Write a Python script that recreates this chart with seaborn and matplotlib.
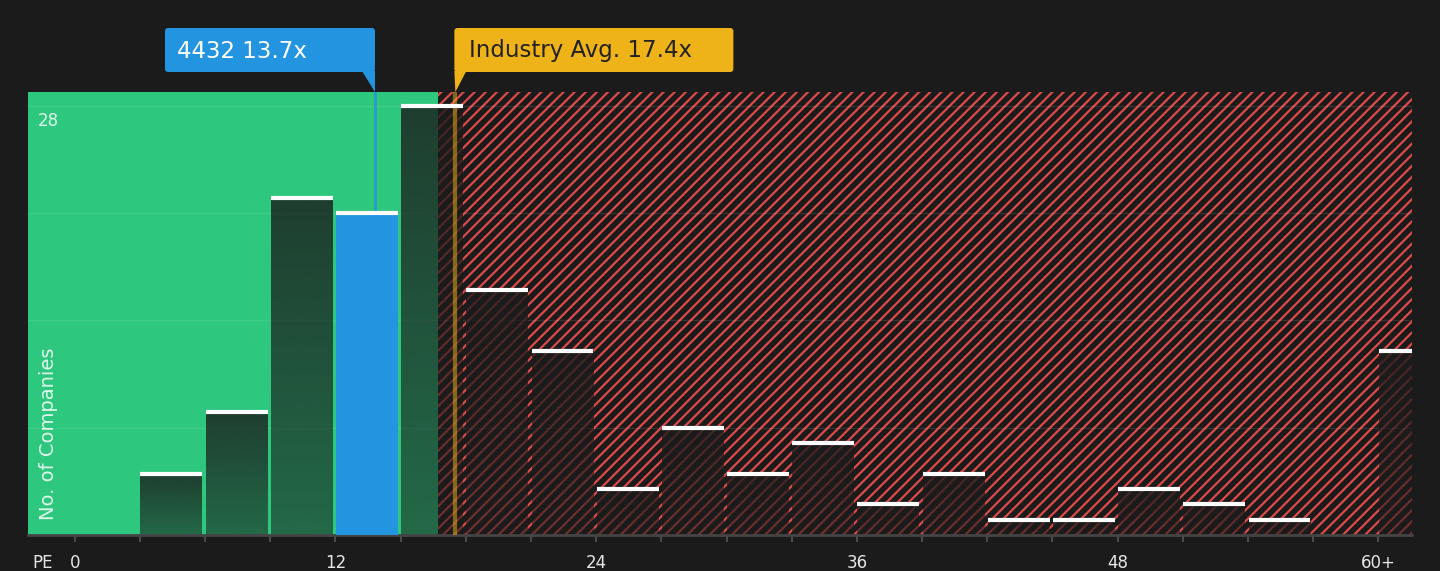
import numpy as np
import pandas as pd
import matplotlib
matplotlib.use("Agg")
import matplotlib.pyplot as plt
import seaborn as sns
from matplotlib.patches import FancyBboxPatch, Polygon
from matplotlib.transforms import Affine2D

# --- data ---
bin_starts = [0, 3, 6, 9, 12, 15, 18, 21, 24, 27, 30, 33, 36, 39, 42, 45, 48, 51, 54, 57, 60]
company_counts = [0, 4, 8, 22, 21, 28, 16, 12, 3, 7, 4, 6, 2, 4, 1, 1, 3, 2, 1, 0, 12]
tick_values = [0, 12, 24, 36, 48, 60]
tick_labels = ["0", "12", "24", "36", "48", "60+"]
company_name = "4432"
company_pe = 13.7
industry_avg = 17.4
fair_limit = 16.7

BG = "#1b1b1b"
GREEN = "#2dc77e"
BLUE = "#2394e0"
YELLOW = "#efb31a"
RED = "#dc4a4a"
W, H = 1440, 571
NUDGE = 0.12  # marker lines sit a touch right of the value in the original

sns.set_theme(style="dark")
plt.rcParams["font.family"] = ["DejaVu Sans"]
plt.rcParams["hatch.linewidth"] = 1.6

df = pd.DataFrame({"pe": [b + 1.45 for b in bin_starts], "count": company_counts})

fig = plt.figure(figsize=(W / 100, H / 100), dpi=100, facecolor=BG)
ax = fig.add_axes([28 / W, 1 - 535 / H, (1412 - 28) / W, (535 - 92) / H])
ax.set_facecolor(BG)
xmin, xmax = -2.15, 61.55
ymax = 28.9

# bars first so ax.patches holds only the bars
sns.barplot(data=df, x="pe", y="count", native_scale=True, width=0.95,
            color=BG, ax=ax, saturation=1, errorbar=None, linewidth=0)
bars = list(ax.patches)

# valuation zones
ax.axvspan(xmin, fair_limit, color=GREEN, lw=0, zorder=0)
ax.axvspan(fair_limit, xmax + 2, facecolor="none", edgecolor=RED, hatch="///", lw=0, zorder=0)

for g in [7, 14, 21, 28]:
    ax.axhline(g, color="white", alpha=0.1, lw=1, zorder=1)

grad = np.zeros((64, 1, 4))
grad[..., :3] = np.array([27, 27, 27]) / 255
grad[:, 0, 3] = np.linspace(0.8, 0.55, 64)

for p, c in zip(bars, company_counts):
    x0, w, h = p.get_x(), p.get_width(), p.get_height()
    if c == 0:
        p.set_visible(False)
        continue
    if x0 <= company_pe <= x0 + w:
        p.set_facecolor(BLUE)
        p.set_zorder(3)
    else:
        p.set_visible(False)
        ax.imshow(grad, extent=(x0, x0 + w, 0, h), aspect="auto", zorder=2,
                  interpolation="bilinear")
    ax.plot([x0, x0 + w], [h, h], color="white", lw=3, solid_capstyle="butt", zorder=4)

# company and industry markers
comp_x = company_pe + NUDGE
avg_x = industry_avg + NUDGE
ax.plot([comp_x, comp_x], [21, ymax], color=BLUE, lw=2, alpha=0.85, zorder=3)
ax.axvline(avg_x, color=YELLOW, alpha=0.5, lw=3, zorder=3)

ax.set_xlim(xmin, xmax)
ax.set_ylim(0, ymax)
ax.set_xticks(bin_starts)
ax.set_xticklabels([tick_labels[tick_values.index(b)] if b in tick_values else "" for b in bin_starts])
ax.set_yticks([])
ax.set_xlabel("")
ax.set_ylabel("")
ax.tick_params(axis="x", colors="#555555", length=5, width=1.2, pad=9,
               labelcolor="#e6e6e6", labelsize=12, bottom=True)
for s in ["top", "right", "left"]:
    ax.spines[s].set_visible(False)
ax.spines["bottom"].set_color("#444444")
ax.spines["bottom"].set_linewidth(2)
ax.grid(False)

ax.text(-1.7, 27.0, "28", color="white", alpha=0.85, fontsize=12, va="center", ha="left", zorder=5)
ax.text(-1.2, 6.6, "No. of Companies", color="white", alpha=0.85, fontsize=14,
        rotation=90, ha="center", va="center", zorder=5)
fig.text(32 / W, 1 - 563 / H, "PE", color="#e6e6e6", fontsize=12, va="center", ha="left")

# label boxes in pixel coordinates
px = Affine2D().scale(1 / W, 1 / H) + fig.transFigure


def to_px(x):
    return ax.transData.transform((x, 0))[0]


cx = to_px(comp_x)
ix = to_px(avg_x)
box_bottom, box_top = H - 72, H - 28
tip_y = H - 92

fig.patches.append(FancyBboxPatch((cx - 210, box_bottom), 210, box_top - box_bottom,
                                  boxstyle="round,pad=0,rounding_size=3", fc=BLUE, ec="none",
                                  transform=px, figure=fig))
fig.patches.append(Polygon([(cx - 13, box_bottom + 1), (cx, box_bottom + 1), (cx, tip_y)],
                           fc=BLUE, ec="none", transform=px, figure=fig))
fig.text((cx - 198) / W, (box_bottom + 21) / H, f"{company_name} {company_pe}x", color="white",
         fontsize=16.5, va="center", ha="left")

fig.patches.append(FancyBboxPatch((ix - 1, box_bottom), 279, box_top - box_bottom,
                                  boxstyle="round,pad=0,rounding_size=3", fc=YELLOW, ec="none",
                                  transform=px, figure=fig))
fig.patches.append(Polygon([(ix - 1, box_bottom + 1), (ix + 11, box_bottom + 1), (ix, tip_y)],
                           fc=YELLOW, ec="none", transform=px, figure=fig))
fig.text((ix + 14) / W, (box_bottom + 21) / H, f"Industry Avg. {industry_avg}x", color="#222222",
         fontsize=16.5, va="center", ha="left")

fig.savefig("out.png", dpi=100, facecolor=BG)
